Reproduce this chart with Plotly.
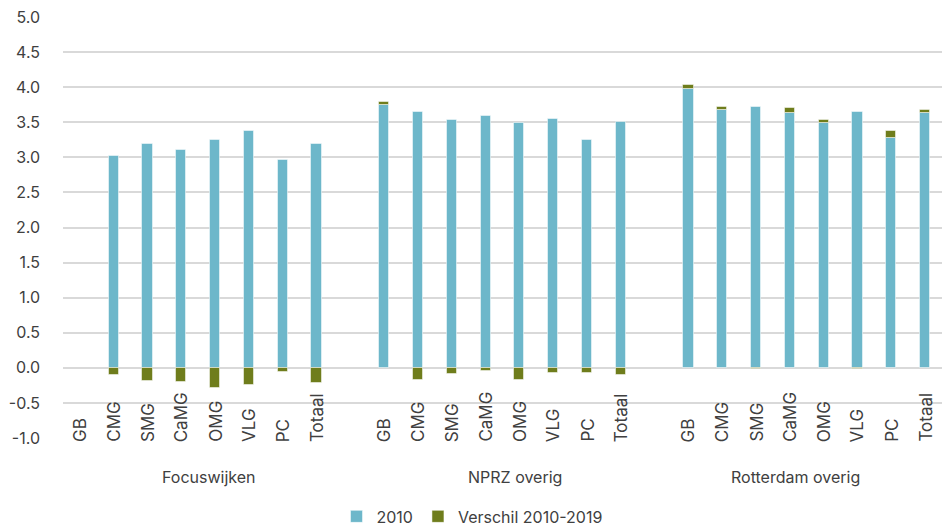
import plotly.graph_objects as go

groups = ["Focuswijken", "NPRZ overig", "Rotterdam overig"]
categories = ["GB", "CMG", "SMG", "CaMG", "OMG", "VLG", "PC", "Totaal"]

focus_2010 = [None, 3.02, 3.19, 3.11, 3.24, 3.38, 2.96, 3.19]
focus_diff = [None, -0.10, -0.19, -0.20, -0.29, -0.25, -0.06, -0.21]
nprz_2010 = [3.75, 3.65, 3.53, 3.59, 3.49, 3.55, 3.24, 3.51]
nprz_diff = [0.04, -0.17, -0.09, -0.04, -0.17, -0.08, -0.07, -0.10]
rdam_2010 = [3.97, 3.67, 3.72, 3.63, 3.49, 3.64, 3.28, 3.63]
rdam_diff = [0.06, 0.05, -0.02, 0.07, 0.04, -0.01, 0.10, 0.04]

y_ticks = [-1.0, -0.5, 0.0, 0.5, 1.0, 1.5, 2.0, 2.5, 3.0, 3.5, 4.0, 4.5, 5.0]

# -----------------------------------
# positions: 8 slots per group + 1 empty slot between groups
# -----------------------------------
slot = len(categories) + 1
x_pos = []
for g in range(len(groups)):
    for i in range(len(categories)):
        x_pos.append(g * slot + i)

values_2010 = focus_2010 + nprz_2010 + rdam_2010
values_diff = focus_diff + nprz_diff + rdam_diff

BLUE = "#6db7ca"
GREEN = "#6f7d1c"
TEXT = "#404040"
FONT = "Inter"

fig = go.Figure()

fig.add_trace(go.Bar(
    x=x_pos,
    y=values_2010,
    name="2010",
    width=0.3,
    marker=dict(color=BLUE, line=dict(color="rgba(255,255,255,0.5)", width=1))
))

fig.add_trace(go.Bar(
    x=x_pos,
    y=values_diff,
    name="Verschil 2010-2019",
    width=0.3,
    marker=dict(color=GREEN, line=dict(color="rgba(255,255,255,0.5)", width=1))
))

# category labels inside the plot, rotated (bottom edge just under -1.0)
annotations = []
for x, cat in zip(x_pos, categories * len(groups)):
    annotations.append(dict(
        x=x, y=0, xref="x", yref="paper", yshift=-6,
        text=cat, textangle=-90, showarrow=False,
        xanchor="center", yanchor="bottom",
        font=dict(family=FONT, size=17, color=TEXT)
    ))

# group labels
group_centers = [3.82, 12.86, 21.17]
for xc, name in zip(group_centers, groups):
    annotations.append(dict(
        x=xc, y=0, xref="x", yref="paper", yshift=-39,
        text=name, showarrow=False,
        xanchor="center", yanchor="middle",
        font=dict(family=FONT, size=16, color=TEXT)
    ))

fig.update_layout(
    barmode="relative",
    width=944,
    height=527,
    margin=dict(l=63, r=2, t=17, b=89),
    plot_bgcolor="white",
    paper_bgcolor="white",
    font=dict(family=FONT, size=16, color=TEXT),
    annotations=annotations,
    showlegend=True,
    legend=dict(
        orientation="h",
        xref="container", yref="container",
        x=0.5, y=0.02,
        xanchor="center", yanchor="middle",
        font=dict(family=FONT, size=16, color=TEXT),
        itemwidth=30,
        traceorder="normal"
    ),
    bargap=0
)

fig.update_xaxes(
    range=[-0.5, slot * len(groups) - 1.5],
    showticklabels=False,
    showgrid=False,
    zeroline=False,
    showline=False,
    ticks=""
)

fig.update_yaxes(
    range=[-1.0, 5.0],
    tickvals=y_ticks,
    ticktext=[f"{v:.1f}" for v in y_ticks],
    showgrid=True,
    gridcolor="#d9d9d9",
    gridwidth=1.5,
    zeroline=True,
    zerolinecolor="#d9d9d9",
    zerolinewidth=1.5,
    showline=False,
    automargin=False,
    ticklabelstandoff=22,
    tickfont=dict(family=FONT, size=16, color=TEXT)
)

# page body has a default 8px margin; drop it so the figure sits at 0,0
fig.write_html(
    "out.html",
    config={"displayModeBar": False},
    post_script="document.body.style.margin = '0';"
)
